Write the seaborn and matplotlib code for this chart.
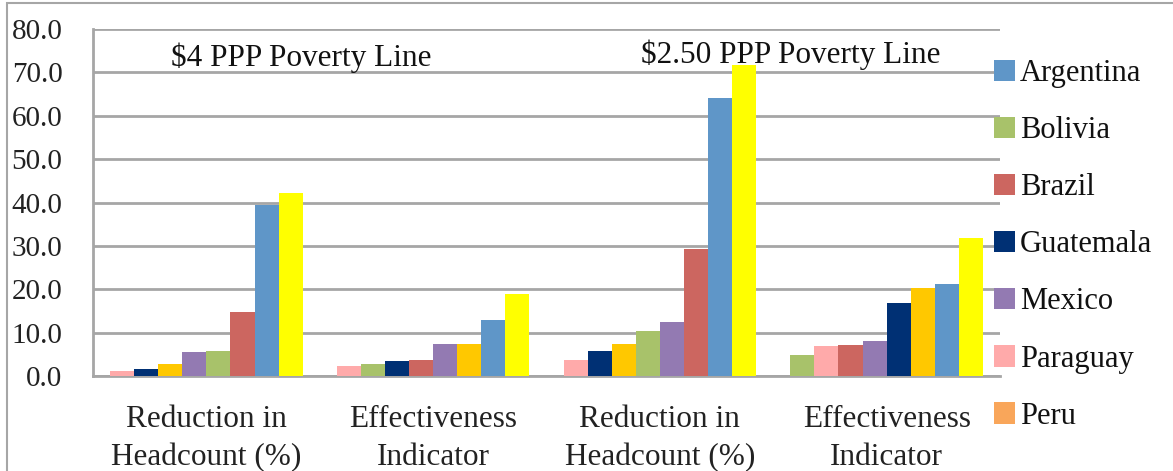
import matplotlib
matplotlib.use("Agg")
import matplotlib.pyplot as plt
from matplotlib.patches import Patch, Rectangle
import seaborn as sns
import pandas as pd

# ---- data ----
group_keys = ["g4_red", "g4_eff", "g250_red", "g250_eff"]
group_labels = ["Reduction in\nHeadcount (%)", "Effectiveness\nIndicator",
                "Reduction in\nHeadcount (%)", "Effectiveness\nIndicator"]

argentina = [39.4, 12.9, 64.2, 21.2]
bolivia = [5.8, 2.8, 10.4, 4.8]
brazil = [14.7, 3.8, 29.2, 7.1]
guatemala = [1.6, 3.5, 5.8, 16.8]
mexico = [5.5, 7.3, 12.4, 8.1]
paraguay = [1.1, 2.3, 3.7, 7.0]
gold_series = [2.8, 7.4, 7.4, 20.4]      # legend entry cut off in the original
yellow_series = [42.2, 18.9, 71.8, 31.8]  # legend entry cut off in the original

series_names = ["Argentina", "Bolivia", "Brazil", "Guatemala", "Mexico",
                "Paraguay", "Gold series", "Yellow series"]
series_values = [argentina, bolivia, brazil, guatemala, mexico, paraguay,
                 gold_series, yellow_series]
legend_names = ["Argentina", "Bolivia", "Brazil", "Guatemala", "Mexico",
                "Paraguay", "Peru"]

colors = {
    "Argentina": "#5F96C8",
    "Bolivia": "#A8C26A",
    "Brazil": "#CC6660",
    "Guatemala": "#003074",
    "Mexico": "#937AB2",
    "Paraguay": "#FFAAAA",
    "Peru": "#F9A65A",
    "Gold series": "#FFC800",
    "Yellow series": "#FFFF00",
}

annotations = ["$4 PPP Poverty Line", "$2.50 PPP Poverty Line"]

# ---- build table: bars sorted ascending within each group ----
rows = []
for gi, g in enumerate(group_keys):
    items = [(name, vals[gi]) for name, vals in zip(series_names, series_values)]
    items.sort(key=lambda t: t[1])
    for slot, (name, v) in enumerate(items):
        rows.append({"group": g, "country": name, "value": v, "slot": slot})
df = pd.DataFrame(rows)

# ---- plot ----
sns.set_theme(style="white")
plt.rcParams["font.family"] = ["Liberation Serif", "DejaVu Serif"]

W, H = 1173, 471
fig = plt.figure(figsize=(W / 100, H / 100), dpi=100)
ax = fig.add_axes([93 / W, 1 - 376 / H, (1000 - 93) / W, (376 - 29) / H])

sns.barplot(data=df, x="group", y="value", hue="slot", order=group_keys,
            dodge=True, width=0.85, gap=0, linewidth=0, legend=False,
            palette=["#999999"] * 8, ax=ax, zorder=3)

# recolour each bar by its country
for slot, cont in enumerate(ax.containers):
    for gi, bar in enumerate(cont):
        name = df[(df.group == group_keys[gi]) & (df.slot == slot)]["country"].iloc[0]
        bar.set_facecolor(colors[name])
        bar.set_edgecolor("none")

grid_c = "#A6A6A6"
ax.set_ylim(0, 80)
ax.set_xlim(-0.5, 3.5)
ax.set_yticks(range(0, 81, 10))
ax.set_yticklabels([f"{v:.1f}" for v in range(0, 81, 10)])
ax.yaxis.grid(True, color=grid_c, linewidth=2)
ax.set_axisbelow(True)
ax.set_xlabel("")
ax.set_ylabel("")
ax.set_xticks(range(4))
ax.set_xticklabels(group_labels, linespacing=1.4)
ax.set_xticks([-0.5, 0.5, 1.5, 2.5, 3.5], minor=True)
ax.tick_params(axis="x", which="major", length=0, pad=21, labelsize=22.5,
               colors="#222222")
ax.tick_params(axis="x", which="minor", length=7, width=1.5, color=grid_c,
               direction="out")
ax.tick_params(axis="y", length=7, width=1.5, color=grid_c, direction="out",
               pad=15, labelsize=21, labelcolor="#222222")
for side in ["top", "right"]:
    ax.spines[side].set_visible(False)
for side in ["left", "bottom"]:
    ax.spines[side].set_color(grid_c)
    ax.spines[side].set_linewidth(2)

ax.text(0.417, 73.3, annotations[0].replace("$", r"\$"), ha="center",
        va="center", fontsize=22.5, color="#111111", zorder=5)
ax.text(2.578, 74.0, annotations[1].replace("$", r"\$"), ha="center",
        va="center", fontsize=22.5, color="#111111", zorder=5)

handles = [Patch(facecolor=colors[n], edgecolor="none") for n in legend_names]
leg = ax.legend(handles, legend_names, loc="upper left",
                bbox_to_anchor=(994 / W, 1 - 59 / H),
                bbox_transform=fig.transFigure, frameon=False,
                fontsize=22, handlelength=0.7, handleheight=0.7,
                handletextpad=0.15, labelspacing=0.92, borderpad=0,
                borderaxespad=0)
for t in leg.get_texts():
    t.set_color("#111111")

# outer frame of the original chart area
fig.patches.append(Rectangle((7 / W, -0.1), 1.2, 1 - 3 / H + 0.1,
                             transform=fig.transFigure, fill=False,
                             edgecolor="#A6A6A6", linewidth=1.5))

fig.savefig("out.png", dpi=100)
